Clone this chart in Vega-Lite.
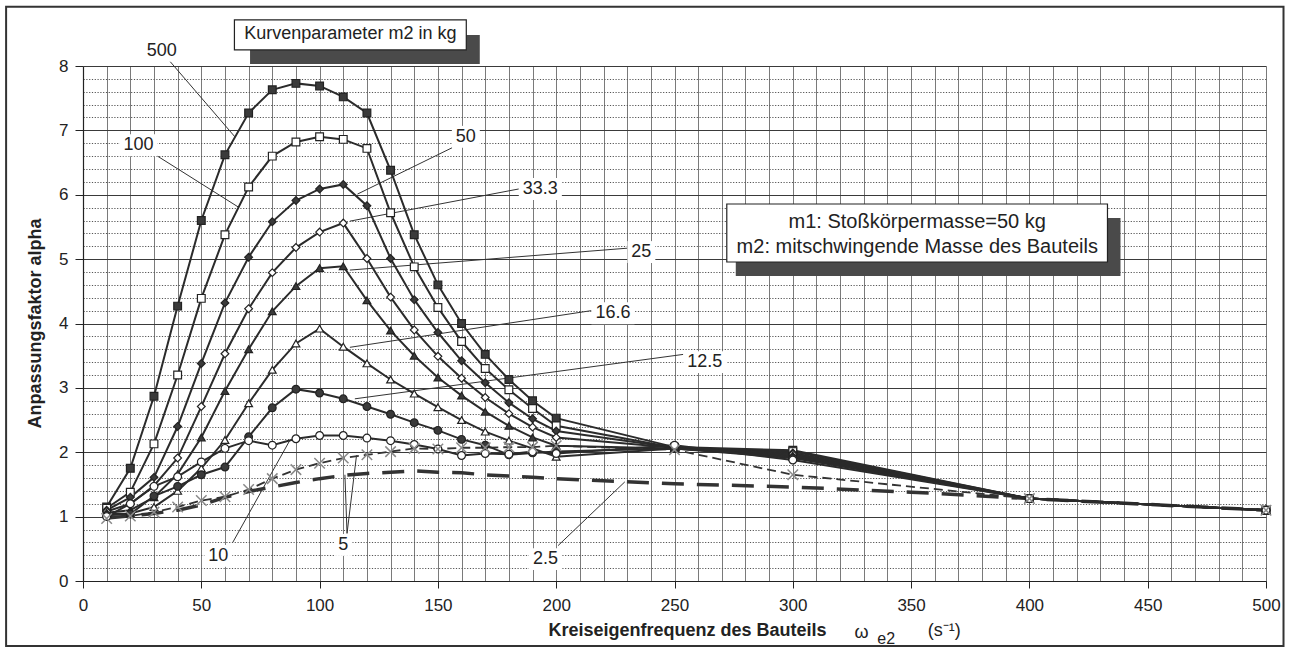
{
  "$schema": "https://vega.github.io/schema/vega-lite/v6.json",
  "width": 1183,
  "height": 515,
  "autosize": {"type": "none"},
  "padding": {"left": 83, "top": 66, "right": 24, "bottom": 69},
  "background": "white",
  "config": {"view": {"stroke": null}, "font": "Liberation Sans", "text": {"font": "Liberation Sans"}},
  "resolve": {"axis": {"x": "independent", "y": "independent"}},
  "datasets": {
    "curves": [
      {"m2":"500","w":10,"alpha":1.15},{"m2":"500","w":20,"alpha":1.75},{"m2":"500","w":30,"alpha":2.87},{"m2":"500","w":40,"alpha":4.27},{"m2":"500","w":50,"alpha":5.6},{"m2":"500","w":60,"alpha":6.62},{"m2":"500","w":70,"alpha":7.27},{"m2":"500","w":80,"alpha":7.63},{"m2":"500","w":90,"alpha":7.73},{"m2":"500","w":100,"alpha":7.69},{"m2":"500","w":110,"alpha":7.52},{"m2":"500","w":120,"alpha":7.27},{"m2":"500","w":130,"alpha":6.38},{"m2":"500","w":140,"alpha":5.38},{"m2":"500","w":150,"alpha":4.6},{"m2":"500","w":160,"alpha":4.0},{"m2":"500","w":170,"alpha":3.52},{"m2":"500","w":180,"alpha":3.13},{"m2":"500","w":190,"alpha":2.8},{"m2":"500","w":200,"alpha":2.53},{"m2":"500","w":250,"alpha":2.08},{"m2":"500","w":300,"alpha":2.03},{"m2":"500","w":400,"alpha":1.28},{"m2":"500","w":500,"alpha":1.1},
      {"m2":"100","w":10,"alpha":1.13},{"m2":"100","w":20,"alpha":1.38},{"m2":"100","w":30,"alpha":2.13},{"m2":"100","w":40,"alpha":3.2},{"m2":"100","w":50,"alpha":4.39},{"m2":"100","w":60,"alpha":5.38},{"m2":"100","w":70,"alpha":6.12},{"m2":"100","w":80,"alpha":6.6},{"m2":"100","w":90,"alpha":6.82},{"m2":"100","w":100,"alpha":6.9},{"m2":"100","w":110,"alpha":6.86},{"m2":"100","w":120,"alpha":6.72},{"m2":"100","w":130,"alpha":5.72},{"m2":"100","w":140,"alpha":4.88},{"m2":"100","w":150,"alpha":4.25},{"m2":"100","w":160,"alpha":3.72},{"m2":"100","w":170,"alpha":3.3},{"m2":"100","w":180,"alpha":2.97},{"m2":"100","w":190,"alpha":2.68},{"m2":"100","w":200,"alpha":2.41},{"m2":"100","w":250,"alpha":2.07},{"m2":"100","w":300,"alpha":2.01},{"m2":"100","w":400,"alpha":1.28},{"m2":"100","w":500,"alpha":1.1},
      {"m2":"50","w":10,"alpha":1.1},{"m2":"50","w":20,"alpha":1.3},{"m2":"50","w":30,"alpha":1.61},{"m2":"50","w":40,"alpha":2.4},{"m2":"50","w":50,"alpha":3.38},{"m2":"50","w":60,"alpha":4.32},{"m2":"50","w":70,"alpha":5.03},{"m2":"50","w":80,"alpha":5.58},{"m2":"50","w":90,"alpha":5.91},{"m2":"50","w":100,"alpha":6.09},{"m2":"50","w":110,"alpha":6.16},{"m2":"50","w":120,"alpha":5.83},{"m2":"50","w":130,"alpha":5.01},{"m2":"50","w":140,"alpha":4.37},{"m2":"50","w":150,"alpha":3.86},{"m2":"50","w":160,"alpha":3.42},{"m2":"50","w":170,"alpha":3.08},{"m2":"50","w":180,"alpha":2.77},{"m2":"50","w":190,"alpha":2.52},{"m2":"50","w":200,"alpha":2.33},{"m2":"50","w":250,"alpha":2.07},{"m2":"50","w":300,"alpha":1.99},{"m2":"50","w":400,"alpha":1.28},{"m2":"50","w":500,"alpha":1.1},
      {"m2":"33.3","w":10,"alpha":1.08},{"m2":"33.3","w":20,"alpha":1.2},{"m2":"33.3","w":30,"alpha":1.48},{"m2":"33.3","w":40,"alpha":1.91},{"m2":"33.3","w":50,"alpha":2.71},{"m2":"33.3","w":60,"alpha":3.53},{"m2":"33.3","w":70,"alpha":4.23},{"m2":"33.3","w":80,"alpha":4.79},{"m2":"33.3","w":90,"alpha":5.18},{"m2":"33.3","w":100,"alpha":5.42},{"m2":"33.3","w":110,"alpha":5.56},{"m2":"33.3","w":120,"alpha":5.01},{"m2":"33.3","w":130,"alpha":4.41},{"m2":"33.3","w":140,"alpha":3.9},{"m2":"33.3","w":150,"alpha":3.49},{"m2":"33.3","w":160,"alpha":3.15},{"m2":"33.3","w":170,"alpha":2.85},{"m2":"33.3","w":180,"alpha":2.6},{"m2":"33.3","w":190,"alpha":2.39},{"m2":"33.3","w":200,"alpha":2.23},{"m2":"33.3","w":250,"alpha":2.07},{"m2":"33.3","w":300,"alpha":1.97},{"m2":"33.3","w":400,"alpha":1.28},{"m2":"33.3","w":500,"alpha":1.1},
      {"m2":"25","w":10,"alpha":1.06},{"m2":"25","w":20,"alpha":1.1},{"m2":"25","w":30,"alpha":1.3},{"m2":"25","w":40,"alpha":1.66},{"m2":"25","w":50,"alpha":2.23},{"m2":"25","w":60,"alpha":2.95},{"m2":"25","w":70,"alpha":3.6},{"m2":"25","w":80,"alpha":4.19},{"m2":"25","w":90,"alpha":4.58},{"m2":"25","w":100,"alpha":4.86},{"m2":"25","w":110,"alpha":4.89},{"m2":"25","w":120,"alpha":4.36},{"m2":"25","w":130,"alpha":3.89},{"m2":"25","w":140,"alpha":3.5},{"m2":"25","w":150,"alpha":3.16},{"m2":"25","w":160,"alpha":2.88},{"m2":"25","w":170,"alpha":2.63},{"m2":"25","w":180,"alpha":2.41},{"m2":"25","w":190,"alpha":2.23},{"m2":"25","w":200,"alpha":2.1},{"m2":"25","w":250,"alpha":2.06},{"m2":"25","w":300,"alpha":1.95},{"m2":"25","w":400,"alpha":1.28},{"m2":"25","w":500,"alpha":1.1},
      {"m2":"16.6","w":10,"alpha":1.04},{"m2":"16.6","w":20,"alpha":1.05},{"m2":"16.6","w":30,"alpha":1.15},{"m2":"16.6","w":40,"alpha":1.4},{"m2":"16.6","w":50,"alpha":1.75},{"m2":"16.6","w":60,"alpha":2.19},{"m2":"16.6","w":70,"alpha":2.76},{"m2":"16.6","w":80,"alpha":3.28},{"m2":"16.6","w":90,"alpha":3.69},{"m2":"16.6","w":100,"alpha":3.92},{"m2":"16.6","w":110,"alpha":3.64},{"m2":"16.6","w":120,"alpha":3.38},{"m2":"16.6","w":130,"alpha":3.13},{"m2":"16.6","w":140,"alpha":2.91},{"m2":"16.6","w":150,"alpha":2.7},{"m2":"16.6","w":160,"alpha":2.5},{"m2":"16.6","w":170,"alpha":2.32},{"m2":"16.6","w":180,"alpha":2.18},{"m2":"16.6","w":190,"alpha":2.06},{"m2":"16.6","w":200,"alpha":1.93},{"m2":"16.6","w":250,"alpha":2.06},{"m2":"16.6","w":300,"alpha":1.93},{"m2":"16.6","w":400,"alpha":1.28},{"m2":"16.6","w":500,"alpha":1.1},
      {"m2":"12.5","w":10,"alpha":1.02},{"m2":"12.5","w":20,"alpha":1.04},{"m2":"12.5","w":30,"alpha":1.32},{"m2":"12.5","w":40,"alpha":1.47},{"m2":"12.5","w":50,"alpha":1.65},{"m2":"12.5","w":60,"alpha":1.77},{"m2":"12.5","w":70,"alpha":2.24},{"m2":"12.5","w":80,"alpha":2.69},{"m2":"12.5","w":90,"alpha":2.98},{"m2":"12.5","w":100,"alpha":2.92},{"m2":"12.5","w":110,"alpha":2.83},{"m2":"12.5","w":120,"alpha":2.71},{"m2":"12.5","w":130,"alpha":2.59},{"m2":"12.5","w":140,"alpha":2.46},{"m2":"12.5","w":150,"alpha":2.34},{"m2":"12.5","w":160,"alpha":2.2},{"m2":"12.5","w":170,"alpha":2.11},{"m2":"12.5","w":180,"alpha":1.96},{"m2":"12.5","w":190,"alpha":1.99},{"m2":"12.5","w":200,"alpha":2.01},{"m2":"12.5","w":250,"alpha":2.06},{"m2":"12.5","w":300,"alpha":1.91},{"m2":"12.5","w":400,"alpha":1.28},{"m2":"12.5","w":500,"alpha":1.1},
      {"m2":"10","w":10,"alpha":1.0},{"m2":"10","w":20,"alpha":1.2},{"m2":"10","w":30,"alpha":1.47},{"m2":"10","w":40,"alpha":1.62},{"m2":"10","w":50,"alpha":1.85},{"m2":"10","w":60,"alpha":2.06},{"m2":"10","w":70,"alpha":2.18},{"m2":"10","w":80,"alpha":2.11},{"m2":"10","w":90,"alpha":2.21},{"m2":"10","w":100,"alpha":2.26},{"m2":"10","w":110,"alpha":2.26},{"m2":"10","w":120,"alpha":2.22},{"m2":"10","w":130,"alpha":2.18},{"m2":"10","w":140,"alpha":2.12},{"m2":"10","w":150,"alpha":2.05},{"m2":"10","w":160,"alpha":1.95},{"m2":"10","w":170,"alpha":1.98},{"m2":"10","w":180,"alpha":1.97},{"m2":"10","w":190,"alpha":2.01},{"m2":"10","w":200,"alpha":1.98},{"m2":"10","w":250,"alpha":2.11},{"m2":"10","w":300,"alpha":1.88},{"m2":"10","w":400,"alpha":1.28},{"m2":"10","w":500,"alpha":1.1},
      {"m2":"5","w":10,"alpha":0.97},{"m2":"5","w":20,"alpha":1.01},{"m2":"5","w":30,"alpha":1.07},{"m2":"5","w":40,"alpha":1.15},{"m2":"5","w":50,"alpha":1.25},{"m2":"5","w":60,"alpha":1.31},{"m2":"5","w":70,"alpha":1.42},{"m2":"5","w":80,"alpha":1.59},{"m2":"5","w":90,"alpha":1.73},{"m2":"5","w":100,"alpha":1.83},{"m2":"5","w":110,"alpha":1.91},{"m2":"5","w":120,"alpha":1.96},{"m2":"5","w":130,"alpha":2.01},{"m2":"5","w":140,"alpha":2.06},{"m2":"5","w":150,"alpha":2.05},{"m2":"5","w":160,"alpha":2.07},{"m2":"5","w":170,"alpha":2.07},{"m2":"5","w":180,"alpha":2.08},{"m2":"5","w":190,"alpha":2.08},{"m2":"5","w":200,"alpha":2.1},{"m2":"5","w":250,"alpha":2.04},{"m2":"5","w":300,"alpha":1.65},{"m2":"5","w":400,"alpha":1.28},{"m2":"5","w":500,"alpha":1.1},
      {"m2":"2.5","w":10,"alpha":0.98},{"m2":"2.5","w":20,"alpha":1.01},{"m2":"2.5","w":30,"alpha":1.05},{"m2":"2.5","w":40,"alpha":1.1},{"m2":"2.5","w":50,"alpha":1.18},{"m2":"2.5","w":60,"alpha":1.3},{"m2":"2.5","w":70,"alpha":1.39},{"m2":"2.5","w":80,"alpha":1.46},{"m2":"2.5","w":90,"alpha":1.53},{"m2":"2.5","w":100,"alpha":1.59},{"m2":"2.5","w":110,"alpha":1.64},{"m2":"2.5","w":120,"alpha":1.67},{"m2":"2.5","w":130,"alpha":1.69},{"m2":"2.5","w":140,"alpha":1.71},{"m2":"2.5","w":150,"alpha":1.69},{"m2":"2.5","w":160,"alpha":1.68},{"m2":"2.5","w":170,"alpha":1.65},{"m2":"2.5","w":180,"alpha":1.63},{"m2":"2.5","w":190,"alpha":1.61},{"m2":"2.5","w":200,"alpha":1.59},{"m2":"2.5","w":250,"alpha":1.51},{"m2":"2.5","w":300,"alpha":1.46},{"m2":"2.5","w":350,"alpha":1.38},{"m2":"2.5","w":400,"alpha":1.28},{"m2":"2.5","w":500,"alpha":1.1}
    ],
    "labels": [
      {"t":"500","x":33.3,"y":8.24,"x1":25.3,"x2":41.3,"y1":8.07,"y2":8.41},
      {"t":"100","x":23.5,"y":6.77,"x1":15.5,"x2":31.5,"y1":6.6,"y2":6.94},
      {"t":"50","x":161.8,"y":6.9,"x1":155.9,"x2":167.7,"y1":6.73,"y2":7.07},
      {"t":"33.3","x":193.3,"y":6.09,"x1":184.2,"x2":202.4,"y1":5.92,"y2":6.26},
      {"t":"25","x":236.0,"y":5.11,"x1":230.1,"x2":241.9,"y1":4.94,"y2":5.28},
      {"t":"16.6","x":224.0,"y":4.16,"x1":214.9,"x2":233.1,"y1":3.99,"y2":4.33},
      {"t":"12.5","x":262.8,"y":3.4,"x1":253.7,"x2":271.9,"y1":3.23,"y2":3.57},
      {"t":"10","x":57.2,"y":0.39,"x1":51.3,"x2":63.1,"y1":0.22,"y2":0.56},
      {"t":"5","x":110.0,"y":0.56,"x1":106.2,"x2":113.8,"y1":0.39,"y2":0.73},
      {"t":"2.5","x":195.5,"y":0.34,"x1":188.5,"x2":202.5,"y1":0.17,"y2":0.51}
    ],
    "leaders": [
      {"x":36.8,"y":8.07,"x2":64.2,"y2":6.9},
      {"x":31.5,"y":6.6,"x2":65.6,"y2":5.81},
      {"x":156.0,"y":6.73,"x2":116.0,"y2":6.01},
      {"x":184.2,"y":6.09,"x2":112.8,"y2":5.59},
      {"x":230.1,"y":5.17,"x2":112.8,"y2":4.83},
      {"x":214.9,"y":4.2,"x2":112.8,"y2":3.63},
      {"x":253.7,"y":3.52,"x2":114.9,"y2":2.83},
      {"x":63.3,"y":0.6,"x2":87.5,"y2":2.19},
      {"x":111.6,"y":0.74,"x2":115.6,"y2":1.95},
      {"x":111.6,"y":0.74,"x2":110.7,"y2":1.65},
      {"x":200.8,"y":0.55,"x2":229.0,"y2":1.54}
    ],
    "boxes": [
      {"k":"frame","x1":-32.5,"x2":507.4,"y1":-1.01,"y2":8.92},
      {"k":"shadow","x1":70.6,"x2":167.7,"y1":8.03,"y2":8.48},
      {"k":"box","x1":64.0,"x2":162.0,"y1":8.249,"y2":8.715},
      {"k":"shadow","x1":275.9,"x2":438.5,"y1":4.738,"y2":5.639},
      {"k":"box","x1":272.1,"x2":433.0,"y1":4.955,"y2":5.856}
    ],
    "notes": [
      {"g":"kp","t":"Kurvenparameter m2 in kg","x":113.0,"y":8.49},
      {"g":"m1","t":"m1: Stoßkörpermasse=50 kg","x":352.6,"y":5.58},
      {"g":"m1","t":"m2: mitschwingende  Masse des Bauteils","x":352.6,"y":5.19},
      {"g":"om","t":"ω","x":329.0,"y":-0.8},
      {"g":"sub","t":"e2","x":339.5,"y":-0.9},
      {"g":"unit","t":"(s⁻¹)","x":364.0,"y":-0.78}
    ]
  },
  "layer": [
    {
      "data": {"name": "boxes"},
      "transform": [{"filter": "datum.k === 'frame'"}],
      "mark": {"type": "rect", "fillOpacity": 0, "fill": "#ffffff", "stroke": "#333333", "strokeWidth": 2},
      "encoding": {
        "x": {"field": "x1", "type": "quantitative", "scale": {"domain": [0, 500], "nice": false, "zero": false},
          "axis": {"orient": "bottom", "values": [10,20,30,40,50,60,70,80,90,100,110,120,130,140,150,160,170,180,190,200,210,220,230,240,250,260,270,280,290,300,310,320,330,340,350,360,370,380,390,400,410,420,430,440,450,460,470,480,490,500],
            "grid": true, "gridColor": "#7a7a7a", "gridWidth": 1, "labels": false, "ticks": false, "domain": false, "title": null}},
        "x2": {"field": "x2"},
        "y": {"field": "y1", "type": "quantitative", "scale": {"domain": [0, 8], "nice": false, "zero": false},
          "axis": {"orient": "left", "values": [0.2,0.4,0.6,0.8,1.2,1.4,1.6,1.8,2.2,2.4,2.6,2.8,3.2,3.4,3.6,3.8,4.2,4.4,4.6,4.8,5.2,5.4,5.6,5.8,6.2,6.4,6.6,6.8,7.2,7.4,7.6,7.8],
            "grid": true, "gridColor": "#555555", "gridWidth": 1, "gridDash": [1.2, 1.6], "labels": false, "ticks": false, "domain": false, "title": null}},
        "y2": {"field": "y2"}
      }
    },
    {
      "data": {"name": "leaders"},
      "mark": {"type": "rule", "color": "#333333", "strokeWidth": 1},
      "encoding": {
        "x": {"field": "x", "type": "quantitative", "scale": {"domain": [0, 500], "nice": false, "zero": false}, "axis": null},
        "y": {"field": "y", "type": "quantitative", "scale": {"domain": [0, 8], "nice": false, "zero": false}, "axis": null},
        "x2": {"field": "x2"},
        "y2": {"field": "y2"}
      }
    },
    {
      "data": {"name": "curves"},
      "transform": [{"filter": "datum.m2 === '2.5'"}],
      "mark": {"type": "line", "interpolate": "linear", "color": "#333333", "strokeWidth": 3.5, "strokeDash": [22, 13]},
      "encoding": {
        "x": {"field": "w", "type": "quantitative", "scale": {"domain": [0, 500], "nice": false, "zero": false}, "axis": null},
        "y": {"field": "alpha", "type": "quantitative", "scale": {"domain": [0, 8], "nice": false, "zero": false}, "axis": null}
      }
    },
    {
      "data": {"name": "curves"},
      "transform": [{"filter": "datum.m2 === '5'"}],
      "mark": {"type": "line", "interpolate": "linear", "color": "#333333", "strokeWidth": 1.8, "strokeDash": [9, 5]},
      "encoding": {
        "x": {"field": "w", "type": "quantitative", "scale": {"domain": [0, 500], "nice": false, "zero": false}, "axis": null},
        "y": {"field": "alpha", "type": "quantitative", "scale": {"domain": [0, 8], "nice": false, "zero": false}, "axis": null}
      }
    },
    {
      "data": {"name": "curves"},
      "transform": [{"filter": "datum.m2 !== '5' && datum.m2 !== '2.5'"}],
      "mark": {"type": "line", "interpolate": "linear", "color": "#2b2b2b", "strokeWidth": 2},
      "encoding": {
        "detail": {"field": "m2", "type": "nominal"},
        "x": {
          "field": "w", "type": "quantitative",
          "scale": {"domain": [0, 500], "nice": false, "zero": false},
          "axis": {
            "orient": "bottom",
            "values": [0,50,100,150,200,250,300,350,400,450,500],
            "grid": false,
            "domain": true, "domainColor": "#222222", "domainWidth": 1.2,
            "ticks": true, "tickColor": "#222222", "tickSize": 7, "tickWidth": 1,
            "format": "d",
            "labelFont": "Liberation Sans", "labelFontSize": 17, "labelColor": "#222222", "labelPadding": 9,
            "labelOverlap": false, "labelFlush": false,
            "title": "Kreiseigenfrequenz des Bauteils",
            "titleFont": "Liberation Sans", "titleFontSize": 18, "titleFontWeight": "bold", "titleColor": "#222222",
            "titleX": 604, "titleY": 49, "titleAlign": "center", "titleBaseline": "middle"
          }
        },
        "y": {
          "field": "alpha", "type": "quantitative",
          "scale": {"domain": [0, 8], "nice": false, "zero": false},
          "axis": {
            "orient": "left",
            "values": [0,1,2,3,4,5,6,7,8],
            "grid": true, "gridColor": "#3a3a3a", "gridWidth": 1,
            "domain": true, "domainColor": "#222222", "domainWidth": 1.2,
            "ticks": true, "tickColor": "#222222", "tickSize": 8, "tickWidth": 1,
            "format": "d",
            "labelFont": "Liberation Sans", "labelFontSize": 17, "labelColor": "#222222", "labelPadding": 7,
            "labelOverlap": false, "labelFlush": false,
            "title": "Anpassungsfaktor alpha",
            "titleFont": "Liberation Sans", "titleFontSize": 18, "titleFontWeight": "bold", "titleColor": "#222222",
            "titleX": -48, "titleY": 257, "titleAngle": -90, "titleAlign": "center", "titleBaseline": "middle"
          }
        }
      }
    },
    {
      "data": {"name": "curves"},
      "transform": [{"filter": "datum.m2 !== '5' && datum.m2 !== '2.5'"}],
      "mark": {"type": "point", "opacity": 1, "size": 60, "strokeWidth": 1.2},
      "encoding": {
        "x": {"field": "w", "type": "quantitative", "scale": {"domain": [0, 500], "nice": false, "zero": false}, "axis": null},
        "y": {"field": "alpha", "type": "quantitative", "scale": {"domain": [0, 8], "nice": false, "zero": false}, "axis": null},
        "shape": {"field": "m2", "type": "nominal", "legend": null,
          "scale": {"domain": ["500","100","50","33.3","25","16.6","12.5","10"], "range": ["square","square","diamond","diamond","triangle-up","triangle-up","circle","circle"]}},
        "fill": {"field": "m2", "type": "nominal", "legend": null,
          "scale": {"domain": ["500","100","50","33.3","25","16.6","12.5","10"], "range": ["#3a3a3a","#ffffff","#3a3a3a","#ffffff","#3a3a3a","#ffffff","#3a3a3a","#ffffff"]}},
        "stroke": {"value": "#222222"}
      }
    },
    {
      "data": {"name": "curves"},
      "transform": [{"filter": "datum.m2 === '5'"}],
      "mark": {"type": "point", "opacity": 1, "size": 110, "strokeWidth": 1.5, "shape": "M-1,-1L1,1M-1,1L1,-1", "stroke": "#8a8a8a"},
      "encoding": {
        "x": {"field": "w", "type": "quantitative", "scale": {"domain": [0, 500], "nice": false, "zero": false}, "axis": null},
        "y": {"field": "alpha", "type": "quantitative", "scale": {"domain": [0, 8], "nice": false, "zero": false}, "axis": null}
      }
    },
    {
      "data": {"name": "labels"},
      "mark": {"type": "rect", "fill": "#ffffff"},
      "encoding": {
        "x": {"field": "x1", "type": "quantitative", "scale": {"domain": [0, 500], "nice": false, "zero": false}, "axis": null},
        "x2": {"field": "x2"},
        "y": {"field": "y1", "type": "quantitative", "scale": {"domain": [0, 8], "nice": false, "zero": false}, "axis": null},
        "y2": {"field": "y2"}
      }
    },
    {
      "data": {"name": "labels"},
      "mark": {"type": "text", "font": "Liberation Sans", "fontSize": 18, "color": "#222222", "align": "center", "baseline": "middle"},
      "encoding": {
        "x": {"field": "x", "type": "quantitative", "scale": {"domain": [0, 500], "nice": false, "zero": false}, "axis": null},
        "y": {"field": "y", "type": "quantitative", "scale": {"domain": [0, 8], "nice": false, "zero": false}, "axis": null},
        "text": {"field": "t"}
      }
    },
    {
      "data": {"name": "boxes"},
      "transform": [{"filter": "datum.k === 'shadow'"}],
      "mark": {"type": "rect", "fill": "#4a4a4a"},
      "encoding": {
        "x": {"field": "x1", "type": "quantitative", "scale": {"domain": [0, 500], "nice": false, "zero": false}, "axis": null},
        "x2": {"field": "x2"},
        "y": {"field": "y1", "type": "quantitative", "scale": {"domain": [0, 8], "nice": false, "zero": false}, "axis": null},
        "y2": {"field": "y2"}
      }
    },
    {
      "data": {"name": "boxes"},
      "transform": [{"filter": "datum.k === 'box'"}],
      "mark": {"type": "rect", "fill": "#ffffff", "stroke": "#222222", "strokeWidth": 1.2},
      "encoding": {
        "x": {"field": "x1", "type": "quantitative", "scale": {"domain": [0, 500], "nice": false, "zero": false}, "axis": null},
        "x2": {"field": "x2"},
        "y": {"field": "y1", "type": "quantitative", "scale": {"domain": [0, 8], "nice": false, "zero": false}, "axis": null},
        "y2": {"field": "y2"}
      }
    },
    {
      "data": {"name": "notes"},
      "transform": [{"filter": "datum.g === 'kp'"}],
      "mark": {"type": "text", "font": "Liberation Sans", "fontSize": 18, "color": "#222222", "align": "center", "baseline": "middle"},
      "encoding": {
        "x": {"field": "x", "type": "quantitative", "scale": {"domain": [0, 500], "nice": false, "zero": false}, "axis": null},
        "y": {"field": "y", "type": "quantitative", "scale": {"domain": [0, 8], "nice": false, "zero": false}, "axis": null},
        "text": {"field": "t"}
      }
    },
    {
      "data": {"name": "notes"},
      "transform": [{"filter": "datum.g === 'm1'"}],
      "mark": {"type": "text", "font": "Liberation Sans", "fontSize": 20, "color": "#222222", "align": "center", "baseline": "middle"},
      "encoding": {
        "x": {"field": "x", "type": "quantitative", "scale": {"domain": [0, 500], "nice": false, "zero": false}, "axis": null},
        "y": {"field": "y", "type": "quantitative", "scale": {"domain": [0, 8], "nice": false, "zero": false}, "axis": null},
        "text": {"field": "t"}
      }
    },
    {
      "data": {"name": "notes"},
      "transform": [{"filter": "datum.g === 'om' || datum.g === 'unit'"}],
      "mark": {"type": "text", "font": "Liberation Sans", "fontSize": 18, "color": "#222222", "align": "center", "baseline": "middle"},
      "encoding": {
        "x": {"field": "x", "type": "quantitative", "scale": {"domain": [0, 500], "nice": false, "zero": false}, "axis": null},
        "y": {"field": "y", "type": "quantitative", "scale": {"domain": [0, 8], "nice": false, "zero": false}, "axis": null},
        "text": {"field": "t"}
      }
    },
    {
      "data": {"name": "notes"},
      "transform": [{"filter": "datum.g === 'sub'"}],
      "mark": {"type": "text", "font": "Liberation Sans", "fontSize": 16, "color": "#222222", "align": "center", "baseline": "middle"},
      "encoding": {
        "x": {"field": "x", "type": "quantitative", "scale": {"domain": [0, 500], "nice": false, "zero": false}, "axis": null},
        "y": {"field": "y", "type": "quantitative", "scale": {"domain": [0, 8], "nice": false, "zero": false}, "axis": null},
        "text": {"field": "t"}
      }
    }
  ]
}
